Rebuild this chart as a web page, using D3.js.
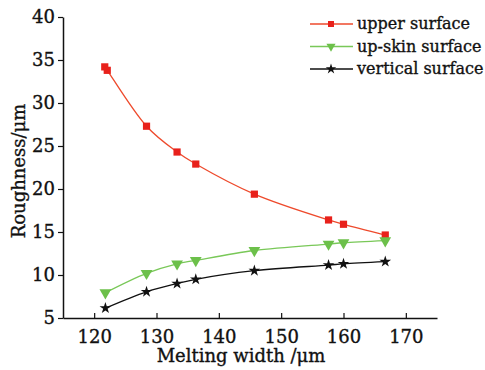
<!DOCTYPE html>
<html>
<head>
<meta charset="utf-8">
<script src="https://cdn.jsdelivr.net/npm/d3@7"></script>
<style>
  body { margin: 0; background: #fff; }
  text { font-family: "DejaVu Serif", serif; fill: #111; stroke: #111; stroke-width: 0.35px; }
</style>
</head>
<body>
<script>
var width = 485,
    height = 370;

var margin = {left: 63, right: 48, top: 17, bottom: 52};

// widths
var widthUpper = [121.7, 122.1, 128.4, 133.3, 136.3, 145.7, 157.6, 160.0, 166.7];
var upper      = [34.2, 33.8, 27.3, 24.3, 22.9, 19.4, 16.4, 15.9, 14.65];

var widthOther = [121.8, 128.4, 133.3, 136.3, 145.7, 157.6, 160.0, 166.7];
var upSkin     = [7.95, 10.2, 11.3, 11.7, 12.85, 13.6, 13.75, 14.0];
var vertical   = [6.15, 8.05, 9.0, 9.5, 10.5, 11.15, 11.3, 11.55];

var xTicks = [120, 130, 140, 150, 160, 170];
var yTicks = [5, 10, 15, 20, 25, 30, 35, 40];

var seriesNames = ["upper surface", "up-skin surface", "vertical surface"];
var lineColors = ["#ee4a2c", "#79c858", "#111111"];
var markColors = ["#e8211b", "#6cc04a", "#111111"];

var svg = d3.select("body").append("svg")
    .attr("width", width)
    .attr("height", height);

var x = d3.scaleLinear().domain([115, 175]).range([margin.left, width - margin.right]);
var y = d3.scaleLinear().domain([5, 40]).range([height - margin.bottom, margin.top]);

// axes
var xAxis = svg.append("g")
    .attr("transform", "translate(0," + (height - margin.bottom) + ")")
    .call(d3.axisBottom(x).tickValues(xTicks).tickSizeInner(-5).tickSizeOuter(0).tickPadding(12));
var yAxis = svg.append("g")
    .attr("transform", "translate(" + margin.left + ",0)")
    .call(d3.axisLeft(y).tickValues(yTicks).tickSizeInner(5).tickSizeOuter(0).tickPadding(3));

svg.selectAll(".domain").attr("stroke", "#111").attr("stroke-width", 1.5);
svg.selectAll(".tick line").attr("stroke", "#111").attr("stroke-width", 1.2);
svg.selectAll(".tick text").style("font-size", "18px").attr("fill", "#111");

svg.append("text")
    .attr("x", 241)
    .attr("y", 362)
    .attr("text-anchor", "middle")
    .style("font-size", "18px")
    .text("Melting width /μm");

svg.append("text")
    .attr("transform", "translate(25,171) rotate(-90)")
    .attr("text-anchor", "middle")
    .style("font-size", "18px")
    .text("Roughness/μm");

var line = d3.line()
    .curve(d3.curveCatmullRom.alpha(0.5))
    .x(function(d) { return x(d[0]); })
    .y(function(d) { return y(d[1]); });

var series = [
  d3.zip(widthUpper, upper),
  d3.zip(widthOther, upSkin),
  d3.zip(widthOther, vertical)
];

var symbols = [
  d3.symbol().type(d3.symbolSquare).size(52),
  d3.symbol().type(d3.symbolTriangle).size(60),
  d3.symbol().type(d3.symbolStar).size(42)
];

series.forEach(function(pts, i) {
  svg.append("path")
    .attr("d", line(pts))
    .attr("fill", "none")
    .attr("stroke", lineColors[i])
    .attr("stroke-width", 1.3);

  svg.selectAll(".m" + i)
    .data(pts)
    .enter().append("path")
    .attr("class", "m" + i)
    .attr("d", symbols[i])
    .attr("transform", function(d) {
      return "translate(" + x(d[0]) + "," + y(d[1]) + ")" + (i == 1 ? " rotate(180)" : "");
    })
    .attr("fill", markColors[i]);
});

// legend
var legend = svg.append("g");
seriesNames.forEach(function(name, i) {
  var ly = 24 + i * 22.5;
  legend.append("line")
    .attr("x1", 310).attr("x2", 353)
    .attr("y1", ly).attr("y2", ly)
    .attr("stroke", lineColors[i])
    .attr("stroke-width", 1.3);
  legend.append("path")
    .attr("d", d3.symbol().type([d3.symbolSquare, d3.symbolTriangle, d3.symbolStar][i]).size(i == 2 ? 34 : 36))
    .attr("transform", "translate(331," + ly + ")" + (i == 1 ? " rotate(180)" : ""))
    .attr("fill", markColors[i]);
  legend.append("text")
    .attr("x", 357)
    .attr("y", ly + 5)
    .style("font-size", "16px")
    .text(name);
});
</script>
</body>
</html>
